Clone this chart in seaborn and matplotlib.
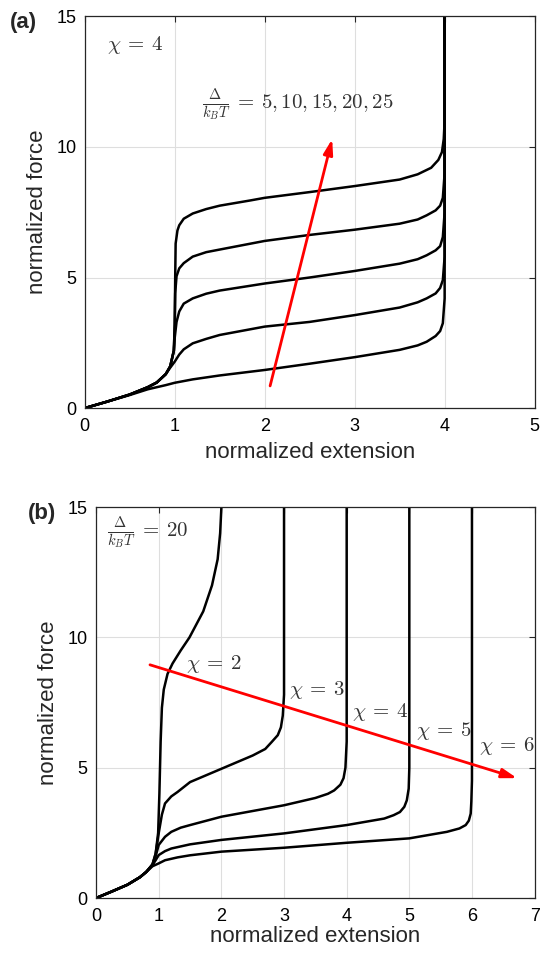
import numpy as np
import pandas as pd
import matplotlib
matplotlib.use("Agg")
import matplotlib.pyplot as plt
import seaborn as sns

# ---------- data: panel (a), chi = 4, several Delta/kBT ----------
a_labels = ["5", "10", "15", "20", "25"]
a_x = [
    [0, 0.25, 0.5, 0.7, 0.8, 0.9, 1.0, 1.2, 1.5, 2.0, 2.5, 3.0, 3.5, 3.7, 3.8, 3.9, 3.95, 3.98, 4.0, 4.0],
    [0, 0.25, 0.5, 0.7, 0.8, 0.9, 0.95, 1.0, 1.05, 1.1, 1.2, 1.35, 1.5, 2.0, 2.5, 3.0, 3.5, 3.7, 3.8, 3.9, 3.95, 3.98, 4.0, 4.0],
    [0, 0.25, 0.5, 0.7, 0.8, 0.9, 0.95, 0.99, 1.0, 1.02, 1.05, 1.1, 1.2, 1.35, 1.5, 2.0, 2.5, 3.0, 3.5, 3.7, 3.8, 3.9, 3.95, 3.98, 4.0, 4.0],
    [0, 0.25, 0.5, 0.7, 0.8, 0.9, 0.95, 0.99, 1.0, 1.005, 1.02, 1.05, 1.1, 1.2, 1.35, 1.5, 2.0, 2.5, 3.0, 3.5, 3.7, 3.8, 3.9, 3.95, 3.98, 4.0, 4.0],
    [0, 0.25, 0.5, 0.7, 0.8, 0.9, 0.95, 0.99, 1.0, 1.005, 1.01, 1.03, 1.05, 1.1, 1.2, 1.35, 1.5, 1.84, 2.0, 2.5, 3.0, 3.5, 3.7, 3.85, 3.93, 3.97, 3.99, 4.0, 4.0],
]
a_y = [
    [0, 0.25, 0.5, 0.72, 0.8, 0.88, 0.97, 1.1, 1.25, 1.46, 1.7, 1.95, 2.23, 2.4, 2.54, 2.76, 2.95, 3.25, 4.2, 15],
    [0, 0.25, 0.52, 0.8, 0.98, 1.3, 1.55, 1.78, 2.05, 2.25, 2.48, 2.65, 2.8, 3.12, 3.3, 3.56, 3.85, 4.05, 4.2, 4.39, 4.6, 4.9, 5.8, 15],
    [0, 0.25, 0.52, 0.8, 0.98, 1.3, 1.6, 2.2, 2.7, 3.3, 3.7, 4.0, 4.2, 4.38, 4.5, 4.77, 5.0, 5.25, 5.53, 5.7, 5.85, 6.04, 6.2, 6.55, 7.5, 15],
    [0, 0.25, 0.52, 0.8, 0.98, 1.3, 1.6, 2.2, 3.2, 4.4, 5.05, 5.35, 5.55, 5.8, 5.97, 6.07, 6.4, 6.63, 6.83, 7.06, 7.22, 7.38, 7.57, 7.75, 8.05, 9.0, 15],
    [0, 0.25, 0.52, 0.8, 0.98, 1.3, 1.6, 2.2, 3.2, 5.0, 6.3, 6.8, 7.0, 7.25, 7.45, 7.62, 7.75, 7.95, 8.05, 8.27, 8.5, 8.75, 8.95, 9.2, 9.5, 9.8, 10.3, 11.0, 15],
]

# ---------- data: panel (b), Delta/kBT = 20, several chi ----------
b_labels = ["2", "3", "4", "5", "6"]
b_x = [
    [0, 0.25, 0.5, 0.7, 0.8, 0.9, 0.95, 0.99, 1.01, 1.03, 1.05, 1.08, 1.14, 1.22, 1.35, 1.49, 1.71, 1.85, 1.94, 1.98, 2.0],
    [0, 0.25, 0.5, 0.7, 0.8, 0.9, 0.95, 1.0, 1.05, 1.1, 1.2, 1.3, 1.5, 2.0, 2.5, 2.7, 2.8, 2.9, 2.95, 2.98, 3.0, 3.0],
    [0, 0.25, 0.5, 0.7, 0.8, 0.9, 0.95, 1.0, 1.1, 1.2, 1.35, 1.5, 2.0, 3.0, 3.5, 3.7, 3.8, 3.9, 3.95, 3.98, 4.0, 4.0],
    [0, 0.25, 0.5, 0.7, 0.8, 0.9, 0.95, 1.0, 1.1, 1.2, 1.5, 2.0, 3.0, 4.0, 4.6, 4.75, 4.85, 4.92, 4.96, 4.99, 5.0, 5.0],
    [0, 0.25, 0.5, 0.7, 0.8, 0.9, 1.0, 1.1, 1.3, 1.5, 2.0, 3.0, 4.0, 5.0, 5.6, 5.8, 5.9, 5.95, 5.98, 5.99, 6.0, 6.0],
]
b_y = [
    [0, 0.25, 0.51, 0.8, 1.0, 1.3, 1.7, 2.5, 4.0, 6.0, 7.3, 8.0, 8.6, 9.0, 9.5, 10.0, 11.0, 12.0, 13.0, 14.0, 15],
    [0, 0.25, 0.51, 0.8, 1.0, 1.28, 1.7, 2.5, 3.2, 3.63, 3.9, 4.07, 4.45, 4.96, 5.47, 5.72, 5.98, 6.25, 6.55, 7.0, 7.8, 15],
    [0, 0.25, 0.51, 0.8, 1.0, 1.27, 1.6, 2.04, 2.35, 2.54, 2.7, 2.8, 3.12, 3.56, 3.84, 4.0, 4.13, 4.35, 4.6, 5.0, 6.0, 15],
    [0, 0.25, 0.51, 0.8, 1.0, 1.26, 1.45, 1.65, 1.8, 1.9, 2.06, 2.23, 2.48, 2.8, 3.05, 3.18, 3.3, 3.5, 3.75, 4.2, 5.0, 15],
    [0, 0.25, 0.51, 0.8, 1.0, 1.22, 1.33, 1.45, 1.56, 1.64, 1.78, 1.93, 2.12, 2.29, 2.54, 2.67, 2.8, 2.97, 3.24, 3.7, 4.5, 15],
]

# red arrows (start, end) and label positions, in data units
a_arrow = [(2.06, 0.85), (2.75, 10.3)]
b_arrow = [(0.86, 8.95), (6.72, 4.6)]
b_chi_pos = [(1.44, 9.0), (3.08, 8.0), (4.08, 7.15), (5.1, 6.42), (6.11, 5.83)]


def long_table(xs, ys, labels):
    rows = []
    for xx, yy, lab in zip(xs, ys, labels):
        for i, (u, v) in enumerate(zip(xx, yy)):
            rows.append({"ext": u, "force": v, "curve": lab, "order": i})
    return pd.DataFrame(rows)


sns.set_style("whitegrid")
plt.rcParams["font.family"] = ["Liberation Sans", "DejaVu Sans"]
plt.rcParams["mathtext.fontset"] = "cm"

fig = plt.figure(figsize=(5.4, 9.58), dpi=100)
ax_a = fig.add_axes([0.157, 0.574, 0.833, 0.409])
ax_b = fig.add_axes([0.178, 0.0626, 0.812, 0.408])

df_a = long_table(a_x, a_y, a_labels)
df_b = long_table(b_x, b_y, b_labels)

for ax, df in [(ax_a, df_a), (ax_b, df_b)]:
    sns.lineplot(data=df, x="ext", y="force", units="curve", estimator=None,
                 sort=False, color="black", linewidth=1.8, ax=ax, legend=False)

# style both axes like the original figure
for ax, xmax in [(ax_a, 5), (ax_b, 7)]:
    ax.set_xlim(0, xmax)
    ax.set_ylim(0, 15)
    ax.set_xticks(range(0, xmax + 1))
    ax.set_yticks([0, 5, 10, 15])
    ax.grid(True, color="#dedede", linewidth=0.8)
    for s in ax.spines.values():
        s.set_visible(True)
        s.set_color("#262626")
        s.set_linewidth(0.9)
    ax.tick_params(direction="in", length=4, width=0.8, labelsize=13,
                   top=True, right=True, colors="#262626", labelcolor="black")
    ax.tick_params(axis="x", pad=7)
    ax.tick_params(axis="y", pad=6)
    ax.set_ylabel("normalized force", fontsize=16, labelpad=6)

ax_a.set_xlabel("normalized extension", fontsize=16, labelpad=5)
ax_b.set_xlabel("normalized extension", fontsize=16, labelpad=1)

arrow_style = dict(arrowstyle="-|>,head_length=0.9,head_width=0.28", color="red", lw=2,
                   shrinkA=0, shrinkB=0)
ax_a.annotate("", xy=a_arrow[1], xytext=a_arrow[0], arrowprops=arrow_style)
ax_b.annotate("", xy=b_arrow[1], xytext=b_arrow[0], arrowprops=arrow_style)

txt = dict(fontsize=15, color="#333333", va="center")
ax_a.text(0.25, 13.9, r"$\chi\:=\:4$", **txt)
ax_a.text(1.3, 11.6, r"$\frac{\Delta}{k_BT}\:=\:5, 10, 15, 20, 25$", **txt)
ax_b.text(0.17, 14.0, r"$\frac{\Delta}{k_BT}\:=\:20$", **txt)
for lab, (px, py) in zip(b_labels, b_chi_pos):
    ax_b.text(px, py, r"$\chi\:=\:" + lab + "$", **txt)

fig.text(0.018, 0.977, "(a)", fontsize=16, fontweight="bold", va="center")
fig.text(0.052, 0.464, "(b)", fontsize=16, fontweight="bold", va="center")

fig.savefig("out.png", dpi=100)
